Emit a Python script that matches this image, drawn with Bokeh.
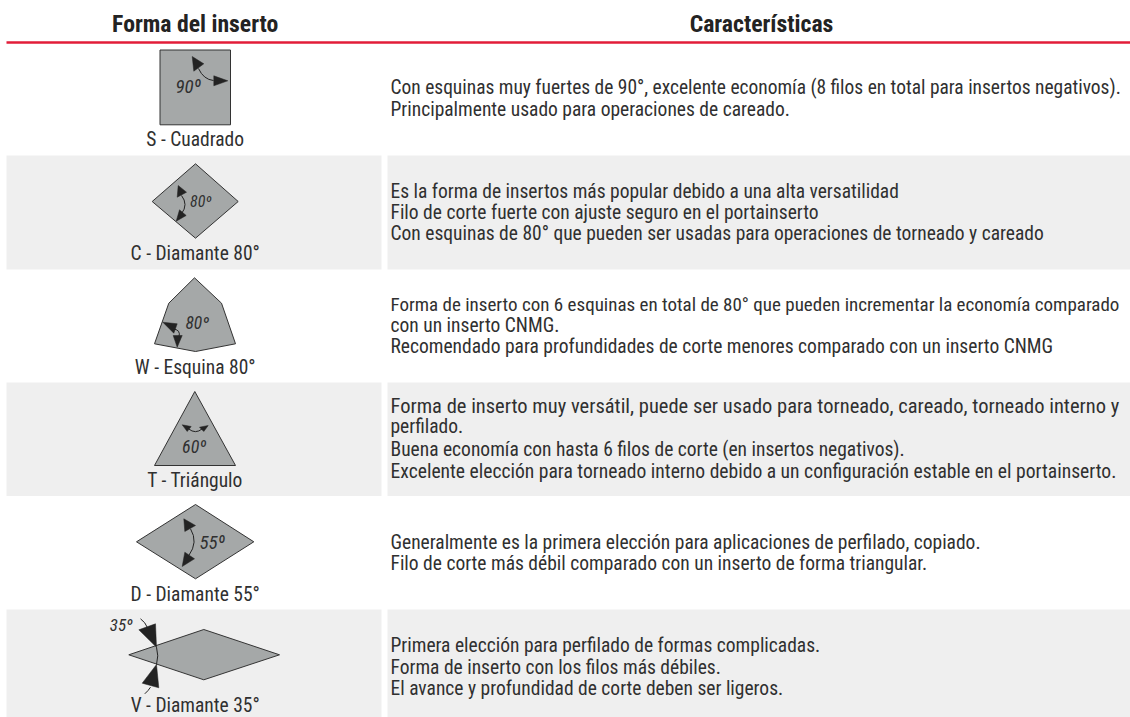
from bokeh.plotting import figure
from bokeh.models import Range1d
from bokeh.core.properties import value
from bokeh.embed import file_html
from bokeh.resources import INLINE

FONT = "'Roboto Condensed', Roboto"
GREY = "#a5a8a8"
DARK = "#232323"
TXT = "#303030"

headers = ["Forma del inserto", "Características"]
shape_names = ["S - Cuadrado", "C - Diamante 80°", "W - Esquina 80°", "T - Triángulo", "D - Diamante 55°", "V - Diamante 35°"]
descriptions = [
    ["Con esquinas muy fuertes de 90°, excelente economía (8 filos en total para insertos negativos).",
     "Principalmente usado para operaciones de careado."],
    ["Es la forma de insertos más popular debido a una alta versatilidad",
     "Filo de corte fuerte con ajuste seguro en el portainserto",
     "Con esquinas de 80° que pueden ser usadas para operaciones de torneado y careado"],
    ["Forma de inserto con 6 esquinas en total de 80° que pueden incrementar la economía comparado",
     "con un inserto CNMG.",
     "Recomendado para profundidades de corte menores comparado con un inserto CNMG"],
    ["Forma de inserto muy versátil, puede ser usado para torneado, careado, torneado interno y",
     "perfilado.",
     "Buena economía con hasta 6 filos de corte (en insertos negativos).",
     "Excelente elección para torneado interno debido a un configuración estable en el portainserto."],
    ["Generalmente es la primera elección para aplicaciones de perfilado, copiado.",
     "Filo de corte más débil comparado con un inserto de forma triangular."],
    ["Primera elección para perfilado de formas complicadas.",
     "Forma de inserto con los filos más débiles.",
     "El avance y profundidad de corte deben ser ligeros."],
]
angle_labels = ["90º", "80º", "80º", "60º", "55º", "35º"]

header_x = [194.7, 761]
name_y = [139, 253, 367, 480, 594, 705.4]
desc_y = [[87, 108.5], [190.5, 211.5, 232.5], [303.5, 325, 346], [405, 426, 449, 471], [541.5, 563], [645, 666.5, 688]]
desc_size = [["19.45px", "19.5px"], ["19.5px", "19.5px", "19.5px"], ["19px", "19.5px", "19.5px"],
             ["20.5px", "19.5px", "19.5px", "19.6px"], ["19.5px", "19.5px"], ["19.5px", "19.5px", "19.5px"]]

band_top = [155, 382, 609]
band_bottom = [269, 495.5, 717]

outline_x = [[159.5, 230, 230, 159.5],
             [195, 237.7, 195, 151.7],
             [194, 221, 235, 195, 154, 168.3],
             [194.3, 235, 154],
             [195, 253.3, 195, 136],
             [203.3, 279, 203.3, 128.3]]
outline_y = [[49.5, 49.5, 124.3, 124.3],
             [163.3, 201, 237.7, 201],
             [277.3, 302.7, 343.3, 351, 343.3, 302.7],
             [391, 465, 465],
             [504, 541.3, 578.3, 541.3],
             [629, 654.3, 679.3, 654.3]]

angle_x = [187.7, 200.3, 196.7, 193.7, 211.7, 120.7]
angle_y = [85.5, 201, 322.5, 446, 542.3, 624.3]
angle_size = ["19px", "16px", "17.5px", "18px", "19px", "17px"]

head_x = [[191.7, 193.3, 203.3], [213.3, 227.3, 213.3],
          [177.7, 176.7, 186], [175.7, 179, 185.7],
          [162.3, 176.7, 173.3], [176.7, 172.7, 181.7],
          [181.7, 190.7, 186.7], [207.7, 199, 203.3],
          [183.3, 184.3, 195], [181.7, 184.3, 194],
          [156, 138.3, 155], [156, 141.7, 158.3]]
head_y = [[56, 70.7, 63.3], [75.3, 80.3, 85.3],
          [185, 196.7, 191.7], [220.7, 209.3, 215],
          [321.7, 323.3, 332.7], [346.7, 335, 335],
          [424.3, 426, 431], [425, 426.7, 431],
          [518.3, 531, 525], [566, 551.7, 558.3],
          [646.7, 629.3, 623.3], [664, 682.7, 687.3]]

arc_x0 = [198, 181, 171.7, 188, 190, 156, 140, 150]
arc_y0 = [68, 195, 328.3, 428.3, 528.3, 646.7, 618.3, 686.7]
arc_cx = [203, 188, 181, 195, 198, 158.5, 145, 148]
arc_cy = [79, 204, 329, 434, 541.7, 655.3, 622, 690]
arc_x1 = [213, 181, 178.3, 201.7, 188.3, 156, 146.7, 144.3]
arc_y1 = [80, 213.3, 336.7, 428.3, 555, 664, 626.7, 693.3]

p = figure(width=1130, height=717, output_backend="svg", toolbar_location=None,
           x_range=Range1d(0, 1130), y_range=Range1d(717, 0),
           min_border=0, outline_line_color=None, background_fill_color="white",
           border_fill_color="white", x_axis_type=None, y_axis_type=None)
p.grid.visible = False

p.quad(left=[6], right=[1130], top=[40.8], bottom=[43.2], fill_color="#e21d38", line_color=None)

for t, b in zip(band_top, band_bottom):
    p.quad(left=[6, 387], right=[381, 1130], top=[t, t], bottom=[b, b], fill_color="#efefef", line_color=None)

p.patches(outline_x, outline_y, fill_color=GREY, line_color="#333333", line_width=1)
p.quadratic(x0=arc_x0, y0=arc_y0, x1=arc_x1, y1=arc_y1, cx=arc_cx, cy=arc_cy, line_color=DARK, line_width=1)
p.patches(head_x, head_y, fill_color=DARK, line_color=DARK, line_width=0.5)

for label, x, y, size in zip(angle_labels, angle_x, angle_y, angle_size):
    p.text([x], [y], text=[label], text_font=value(FONT), text_font_style="italic",
           text_font_size=size, text_align="center", text_baseline="middle", text_color=TXT)

p.text(header_x, [23.5, 23.5], text=headers, text_font=value(FONT), text_font_style="bold",
       text_font_size="23.7px", text_align="center", text_baseline="middle", text_color=DARK)

p.text([194.7] * 6, name_y, text=shape_names, text_font=value(FONT), text_font_size="19.5px",
       text_align="center", text_baseline="middle", text_color=TXT)

for lines, ys, sizes in zip(descriptions, desc_y, desc_size):
    for line, y, size in zip(lines, ys, sizes):
        p.text([390], [y], text=[line], text_font=value(FONT), text_font_size=size,
               text_align="left", text_baseline="middle", text_color=TXT)

open("out.html", "w").write(file_html(p, INLINE))
